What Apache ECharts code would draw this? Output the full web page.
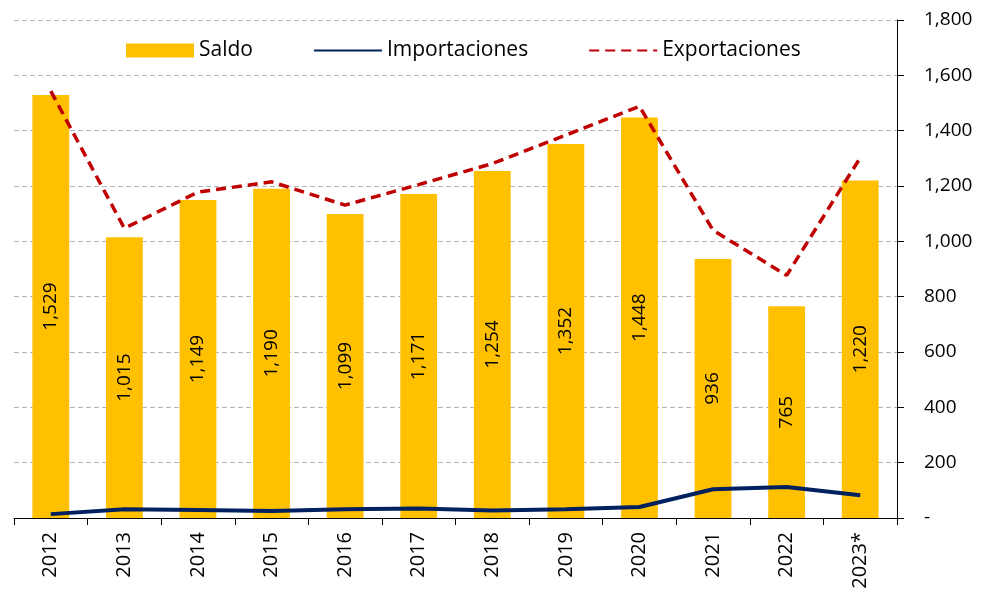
<!DOCTYPE html>
<html>
<head>
<meta charset="utf-8">
<script src="https://cdn.jsdelivr.net/npm/echarts@6/dist/echarts.min.js"></script>
<style>
  html, body { margin: 0; padding: 0; background: #fff; }
  #chart { width: 982px; height: 595px; }
</style>
</head>
<body>
<div id="chart"></div>
<script>
// categorias y valores
let years = ['2012', '2013', '2014', '2015', '2016', '2017', '2018', '2019', '2020', '2021', '2022', '2023*'];
let saldo = [1529, 1015, 1149, 1190, 1099, 1171, 1254, 1352, 1448, 936, 765, 1220];
let importaciones = [14, 32, 29, 25, 32, 34, 27, 32, 40, 104, 112, 82];
let exportaciones = [1543, 1047, 1178, 1215, 1131, 1205, 1281, 1384, 1488, 1040, 877, 1302];

let fontName = '"Open Sans", "Noto Sans", sans-serif';

function fmt(v){
    return Number(v).toLocaleString('en-US');
}

let myChart = echarts.init(document.getElementById('chart'));

let option = {
    animation: false,
    textStyle: { fontFamily: fontName },
    legend: {
        left: 121,
        top: 35,
        itemGap: 60,
        itemWidth: 68,
        itemHeight: 14,
        textStyle: { fontSize: 21, color: '#000', fontFamily: fontName },
        data: [
            { name: 'Saldo', icon: 'rect' },
            { name: 'Importaciones', itemStyle: { opacity: 0 } },
            { name: 'Exportaciones', itemStyle: { opacity: 0 } }
        ]
    },
    grid: {
        left: 14,
        right: 85,
        top: 20,
        bottom: 77
    },
    xAxis: {
        type: 'category',
        data: years,
        axisLine: { lineStyle: { color: '#000', width: 1 } },
        axisTick: { show: true, length: 7, lineStyle: { color: '#000' } },
        axisLabel: { rotate: 90, fontSize: 20, color: '#000', margin: 14, fontFamily: fontName }
    },
    yAxis: {
        type: 'value',
        position: 'right',
        min: 0,
        max: 1800,
        interval: 200,
        axisLine: { show: true, lineStyle: { color: '#000', width: 1 } },
        axisTick: { show: true, length: 7, lineStyle: { color: '#000' } },
        axisLabel: {
            fontSize: 19,
            color: '#000',
            margin: 27,
            fontFamily: fontName,
            formatter: function(v){ return v === 0 ? '-' : fmt(v); }
        },
        splitLine: { show: true, lineStyle: { color: '#b4b4b4', type: [5, 3], width: 1 } }
    },
    series: [
        {
            name: 'Saldo',
            type: 'bar',
            data: saldo,
            barWidth: '50%',
            itemStyle: { color: '#FFC000' },
            label: {
                show: true,
                position: 'inside',
                rotate: 90,
                fontSize: 19,
                color: '#000',
                fontFamily: fontName,
                formatter: function(p){ return fmt(p.value); }
            }
        },
        {
            name: 'Importaciones',
            type: 'line',
            data: importaciones,
            symbol: 'none',
            lineStyle: { color: '#002060', width: 4 },
            itemStyle: { color: '#002060' }
        },
        {
            name: 'Exportaciones',
            type: 'line',
            data: exportaciones,
            symbol: 'none',
            lineStyle: { color: '#C00000', width: 3.5, type: [10, 6] },
            itemStyle: { color: '#C00000' }
        }
    ]
};

myChart.setOption(option);
</script>
</body>
</html>
